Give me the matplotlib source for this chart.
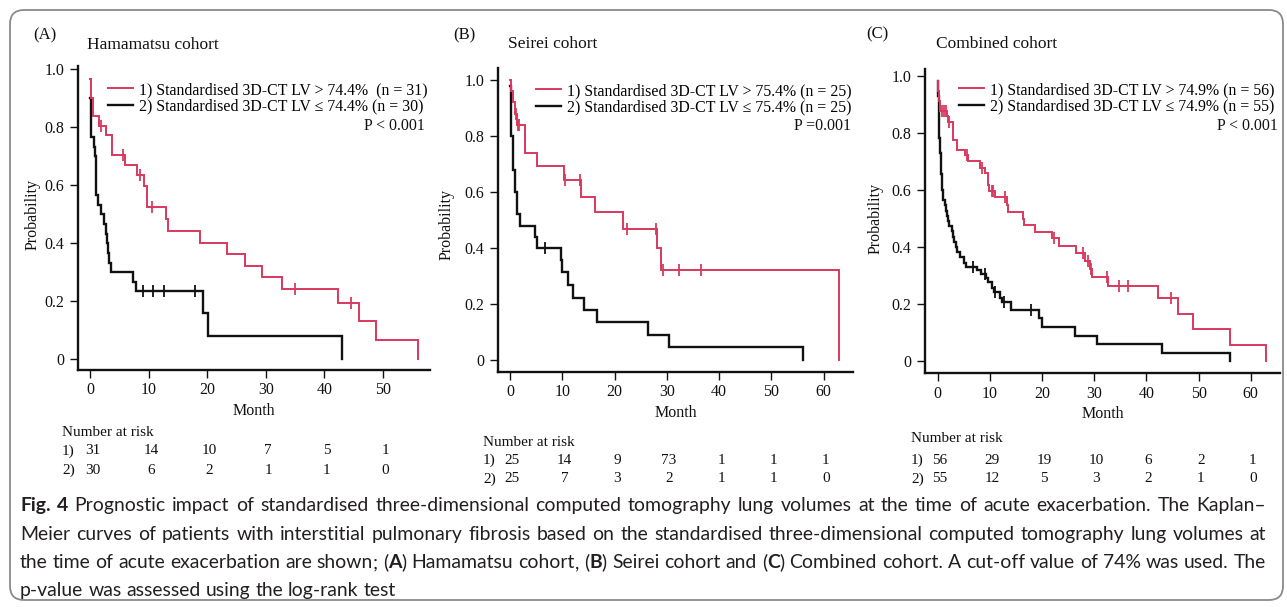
import numpy as np
import matplotlib
matplotlib.use("Agg")
import matplotlib.pyplot as plt
from matplotlib.patches import FancyBboxPatch
from matplotlib.lines import Line2D
import matplotlib.transforms as mtrans

W, H, DPI = 1287, 607, 100
SERIF = ["Liberation Serif", "DejaVu Serif"]
CAP_FONT = "Lato"
plt.rcParams["font.family"] = SERIF
RED = "#d8395e"
BLACK = "#111111"

# ---------------- data ----------------
panel_tags = ["(A)", "(B)", "(C)"]
cohorts = ["Hamamatsu cohort", "Seirei cohort", "Combined cohort"]
hi_labels = ["1) Standardised 3D-CT LV > 74.4%  (n = 31)",
             "1) Standardised 3D-CT LV > 75.4% (n = 25)",
             "1) Standardised 3D-CT LV > 74.9% (n = 56)"]
lo_labels = ["2) Standardised 3D-CT LV \u2264 74.4% (n = 30)",
             "2) Standardised 3D-CT LV \u2264 75.4% (n = 25)",
             "2) Standardised 3D-CT LV \u2264 74.9% (n = 55)"]
p_texts = ["P < 0.001", "P =0.001", "P < 0.001"]

# Panel A
a_hi_t = [0, 0.17, 0.5, 1.6, 2.7, 3.7, 3.8, 6.0, 7.95, 9.2, 9.8, 12.9, 13.3, 18.7,
          23.3, 26.4, 29.4, 32.8, 42.3, 45.9, 48.8, 55.9]
a_hi_s = [0.968, 0.903, 0.839, 0.806, 0.774, 0.740, 0.704, 0.670, 0.636, 0.598, 0.526,
          0.482, 0.442, 0.402, 0.362, 0.322, 0.282, 0.242, 0.194, 0.132, 0.066, 0.0]
a_hi_cens = [1.8, 5.7, 8.6, 10.5, 34.9, 44.6]
a_lo_t = [0, 0.1, 0.2, 0.7, 0.85, 0.95, 1.0, 1.05, 1.1, 1.4, 1.8, 2.4, 2.8, 2.85, 3.0,
          3.2, 3.6, 7.4, 7.8, 19.3, 20.2, 43.0]
a_lo_s = [0.90, 0.867, 0.767, 0.733, 0.70, 0.667, 0.633, 0.60, 0.567, 0.533, 0.50,
          0.467, 0.433, 0.40, 0.367, 0.333, 0.30, 0.267, 0.236, 0.158, 0.079, 0.0]
a_lo_cens = [9.0, 10.8, 12.7, 17.9]

# Panel B
b_hi_t = [0, 0.2, 0.5, 0.9, 1.3, 2.9, 5.2, 10.3, 13.6, 16.2, 21.5, 28.0, 28.8, 63.0]
b_hi_s = [1.0, 0.96, 0.92, 0.88, 0.84, 0.74, 0.694, 0.643, 0.583, 0.527, 0.467, 0.40,
          0.321, 0.0]
b_hi_cens = [1.05, 1.4, 1.7, 10.5, 13.4, 22.3, 27.9, 29.2, 32.3, 36.6]
b_lo_t = [0, 0.2, 0.5, 0.9, 1.3, 1.95, 4.8, 5.1, 9.7, 10.0, 11.1, 12.0, 14.1, 16.6,
          26.3, 30.4, 56.0]
b_lo_s = [0.98, 0.80, 0.68, 0.60, 0.52, 0.48, 0.44, 0.40, 0.357, 0.313, 0.268, 0.223,
          0.179, 0.134, 0.089, 0.045, 0.0]
b_lo_cens = [6.6]

# Panel C
c_hi_t = [0, 0.1, 0.25, 0.4, 1.7, 1.9, 2.9, 3.0, 3.6, 3.7, 5.2, 5.85, 8.1, 9.0, 9.6,
          9.7, 9.8, 10.9, 13.2, 13.4, 16.4, 16.6, 18.6, 21.8, 23.3, 26.5, 28.2, 29.2,
          29.5, 32.7, 42.3, 46.0, 49.0, 56.1, 62.9]
c_hi_s = [0.982, 0.946, 0.911, 0.875, 0.857, 0.839, 0.80, 0.775, 0.757, 0.740, 0.722,
          0.700, 0.677, 0.660, 0.638, 0.616, 0.596, 0.575, 0.548, 0.522, 0.497, 0.477,
          0.451, 0.430, 0.404, 0.377, 0.352, 0.322, 0.295, 0.263, 0.220, 0.164, 0.111,
          0.056, 0.0]
c_hi_cens = [0.8, 1.2, 1.5, 2.2, 5.6, 8.4, 10.3, 10.6, 12.9, 22.3, 27.9, 28.7, 29.3,
             32.4, 34.8, 36.5, 44.8]
c_lo_t = [0, 0.05, 0.1, 0.12, 0.15, 0.17, 0.2, 0.22, 0.25, 0.27, 0.3, 0.32, 0.4, 0.45,
          0.5, 0.55, 0.6, 0.65, 0.7, 0.75, 0.8, 0.9, 0.95, 1.05, 1.4, 1.5, 1.7, 2.0,
          2.2, 2.7, 2.9, 3.2, 3.4, 3.6, 4.3, 5.0, 5.4, 7.5, 8.3, 9.2, 9.7, 10.3, 10.7,
          11.9, 12.4, 14.0, 19.4, 20.0, 26.3, 30.5, 42.9, 56.0]
c_lo_s = [0.982, 0.964, 0.945, 0.927, 0.909, 0.891, 0.873, 0.855, 0.836, 0.818, 0.800,
          0.782, 0.764, 0.745, 0.727, 0.709, 0.691, 0.673, 0.655, 0.636, 0.618, 0.600,
          0.582, 0.564, 0.545, 0.527, 0.509, 0.491, 0.473, 0.455, 0.436, 0.418, 0.400,
          0.382, 0.364, 0.345, 0.331, 0.318, 0.304, 0.290, 0.276, 0.255, 0.243, 0.222,
          0.205, 0.180, 0.150, 0.120, 0.088, 0.059, 0.029, 0.0]
c_lo_cens = [6.8, 9.0, 11.0, 12.7, 17.9]

# Number at risk
a_risk_t = [0, 10, 20, 30, 40, 50]
a_risk_1 = ["31", "14", "10", "7", "5", "1"]
a_risk_2 = ["30", "6", "2", "1", "1", "0"]
b_risk_t = [0, 10, 20, 30, 40, 50, 60]
b_risk_1 = ["25", "14", "9", "73", "1", "1", "1"]
b_risk_2 = ["25", "7", "3", "2", "1", "1", "0"]
c_risk_t = [0, 10, 20, 30, 40, 50, 60]
c_risk_1 = ["56", "29", "19", "10", "6", "2", "1"]
c_risk_2 = ["55", "12", "5", "3", "2", "1", "0"]

y_ticks = [0, 0.2, 0.4, 0.6, 0.8, 1.0]
y_ticklabels = ["0", "0.2", "0.4", "0.6", "0.8", "1.0"]

caption = [
    "*Fig.* *4*  Prognostic impact of standardised three-dimensional computed tomography lung volumes at the time of acute exacerbation. The Kaplan\u2013",
    "Meier curves of patients with interstitial pulmonary fibrosis based on the standardised three-dimensional computed tomography lung volumes at",
    "the time of acute exacerbation are shown; (*A*) Hamamatsu cohort, (*B*) Seirei cohort and (*C*) Combined cohort. A cut-off value of 74% was used. The",
    "p-value was assessed using the log-rank test",
]

# ---------------- layout (pixels) ----------------
def fx(x):
    return x / W

def fy(y):
    return 1 - y / H

panels = [
    dict(box=(78, 66, 430, 370), xlim=(-2.05, 58.0), ylim=(-0.038, 1.012),
         xticks=a_risk_t, hi=(a_hi_t, a_hi_s, a_hi_cens), lo=(a_lo_t, a_lo_s, a_lo_cens),
         risk=(a_risk_t, a_risk_1, a_risk_2), tag=(33, 35), title=(87, 45),
         leg=(108, 82), pt=(425, 126), ylab=(33, 215),
         nar=(62, 432), rows=(451, 470)),
    dict(box=(498, 68, 853, 372), xlim=(-2.34, 65.6), ylim=(-0.043, 1.043),
         xticks=b_risk_t, hi=(b_hi_t, b_hi_s, b_hi_cens), lo=(b_lo_t, b_lo_s, b_lo_cens),
         risk=(b_risk_t, b_risk_1, b_risk_2), tag=(453, 35), title=(508, 44),
         leg=(536, 83), pt=(851, 126), ylab=(447, 225),
         nar=(483, 442), rows=(460, 479)),
    dict(box=(925, 69, 1280, 373), xlim=(-2.45, 65.6), ylim=(-0.042, 1.023),
         xticks=c_risk_t, hi=(c_hi_t, c_hi_s, c_hi_cens), lo=(c_lo_t, c_lo_s, c_lo_cens),
         risk=(c_risk_t, c_risk_1, c_risk_2), tag=(866, 34), title=(936, 44),
         leg=(959, 82), pt=(1278, 126), ylab=(876, 218),
         nar=(911, 438), rows=(460, 479)),
]

fig = plt.figure(figsize=(W / DPI, H / DPI), dpi=DPI)
renderer = fig.canvas.get_renderer()

# rounded frame
frame = FancyBboxPatch((10, 7), 1273, 590, boxstyle="round,pad=0,rounding_size=14",
                       transform=mtrans.IdentityTransform(), fill=False,
                       edgecolor="#8a8a8a", linewidth=1.3)
fig.patches.append(frame)


def level_at(t_arr, s_arr, t):
    i = np.searchsorted(np.asarray(t_arr), t, side="right") - 1
    return np.asarray(s_arr)[i]


for i, p in enumerate(panels):
    l, t, r, b = p["box"]
    ax = fig.add_axes([fx(l), fy(b), (r - l) / W, (b - t) / H])
    ax.set_facecolor("none")
    for key, col, lw in (("lo", BLACK, 1.7), ("hi", RED, 1.4)):
        tt, ss, cc = p[key]
        ax.step(tt, ss, where="post", color=col, lw=lw, solid_joinstyle="miter")
        cy = [level_at(tt, ss, c) for c in cc]
        ax.plot(cc, cy, ls="none", marker="|", ms=9, mew=1.3, color=col)
    ax.set_xlim(*p["xlim"])
    ax.set_ylim(*p["ylim"])
    ax.set_xticks(p["xticks"])
    ax.set_xticklabels([str(v) for v in p["xticks"]])
    ax.set_yticks(y_ticks)
    ax.set_yticklabels(y_ticklabels)
    for s in ("top", "right"):
        ax.spines[s].set_visible(False)
    for s in ("left", "bottom"):
        ax.spines[s].set_linewidth(1.7)
        ax.spines[s].set_color(BLACK)
    ax.tick_params(direction="out", length=5.5, width=1.0, labelsize=11.5,
                   colors=BLACK, pad=3.5)
    ax.tick_params(axis="y", pad=4.5)

    # legend
    handles = [Line2D([], [], color=RED, lw=1.4), Line2D([], [], color=BLACK, lw=1.7)]
    ax.legend(handles, [hi_labels[i], lo_labels[i]], loc="upper left",
              bbox_to_anchor=(fx(p["leg"][0]), fy(p["leg"][1])),
              bbox_transform=fig.transFigure, frameon=False, fontsize=11.4,
              handlelength=1.6, handletextpad=0.38, borderpad=0, borderaxespad=0,
              labelspacing=0.05)
    fig.text(fx(p["pt"][0]), fy(p["pt"][1]), p_texts[i], ha="right", va="center",
             fontsize=11.4, color=BLACK)

    # titles
    fig.text(fx(p["tag"][0]), fy(p["tag"][1]), panel_tags[i], ha="left", va="center",
             fontsize=12, color=BLACK)
    fig.text(fx(p["title"][0]), fy(p["title"][1]), cohorts[i], ha="left", va="center",
             fontsize=12.5, color=BLACK)
    fig.text(fx(p["ylab"][0]), fy(p["ylab"][1]), "Probability", ha="center",
             va="center", rotation=90, fontsize=11.5, color=BLACK)
    ax.set_xlabel("Month", fontsize=11.5, color=BLACK, labelpad=3)

    # number at risk
    fig.text(fx(p["nar"][0]), fy(p["nar"][1]), "Number at risk", ha="left",
             va="center", fontsize=11, color=BLACK)
    rt, r1, r2 = p["risk"]
    bt = mtrans.blended_transform_factory(ax.transData, fig.transFigure)
    for row_lab, vals, yy in (("1)", r1, p["rows"][0]), ("2)", r2, p["rows"][1])):
        fig.text(fx(p["nar"][0]), fy(yy), row_lab, ha="left", va="center",
                 fontsize=11, color=BLACK)
        for tv, v in zip(rt, vals):
            ax.text(tv + 0.4, fy(yy), v, transform=bt, ha="center", va="center",
                    fontsize=11, color=BLACK, clip_on=False)


# ---------------- caption ----------------
def parse_words(line):
    words = []
    for w in line.split(" "):
        if not w:
            continue
        segs = w.split("*")
        word = []
        for k, sg in enumerate(segs):
            if not sg:
                continue
            bold = k % 2 == 1
            # keep trailing comma / semicolon as its own piece
            if len(sg) > 1 and sg[-1] in ",;":
                word.append((sg[:-1], bold))
                word.append((sg[-1], bold))
            else:
                word.append((sg, bold))
        words.append(word)
    return words


def measure(s, bold, size):
    tx = fig.text(0, 0, s, fontsize=size, fontweight="bold" if bold else "normal",
                  family=CAP_FONT)
    wdt = tx.get_window_extent(renderer=renderer).width
    tx.remove()
    return wdt


CAP_LEFT, CAP_RIGHT = 20, 1266
cap_base = [511, 540, 568, 596]
parsed = [parse_words(ln) for ln in caption]
size0 = 12.0
space0 = measure("x x", False, size0) - measure("xx", False, size0)
scales = []
for words in parsed[:3]:
    nat = sum(measure(sg, bd, size0) for wd in words for sg, bd in wd)
    nat += space0 * (len(words) - 1)
    scales.append((CAP_RIGHT - CAP_LEFT) / nat)
cap_size = size0 * min(scales)
space = space0 * min(scales)

for li, words in enumerate(parsed):
    widths = [[measure(sg, bd, cap_size) for sg, bd in wd] for wd in words]
    total = sum(sum(w) for w in widths)
    if li < 3:
        gap = (CAP_RIGHT - CAP_LEFT - total) / (len(words) - 1)
    else:
        gap = space
    x = CAP_LEFT
    for wd, ws in zip(words, widths):
        for (sg, bd), sw in zip(wd, ws):
            fig.text(fx(x), fy(cap_base[li]), sg, ha="left", va="baseline",
                     fontsize=cap_size, fontweight="bold" if bd else "normal",
                     family=CAP_FONT, color="#231f20")
            x += sw
        x += gap

fig.savefig("out.png", dpi=DPI)
